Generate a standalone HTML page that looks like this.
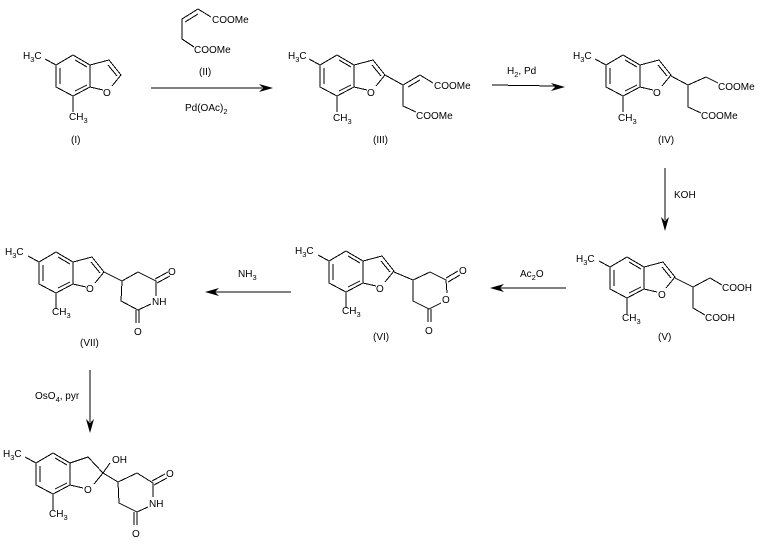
<!DOCTYPE html>
<html><head><meta charset="utf-8"><style>
html,body{margin:0;padding:0;background:#fff}
svg{display:block}
text{font-family:"Liberation Sans",Arial,sans-serif;font-size:10px;fill:#000}
.s{font-size:7.5px}
.l{stroke:#000;stroke-width:1;fill:none;shape-rendering:crispEdges}
</style></head><body>
<svg width="761" height="545" viewBox="0 0 761 545" xmlns="http://www.w3.org/2000/svg">
<defs>
<g id="core" class="l">
<path class="l" d="M73 55L90 65L90 87L73 96L56 87L56 65Z"/>
<path class="l" d="M60 68L60 84M75 60L87 67M75 91L87 85"/>
<path class="l" d="M90 65L109 60L121 75L112 86M90 87L103 90"/>
<path class="l" d="M56 65L45 59M73 96L73 112"/>
</g>
<path id="db" class="l" d="M108 65L117 76"/>
<g id="head"><path d="M0 0L-14 -4L-10 0L-14 4Z" fill="#000"/></g>
</defs>

<!-- I -->
<use href="#core"/><use href="#db"/>
<text x="23" y="59">H<tspan class="s" dy="3">3</tspan><tspan dy="-3">C</tspan></text>
<text x="103" y="96">O</text>
<text x="69" y="120">CH<tspan class="s" dy="3">3</tspan></text>
<text x="71" y="143">(I)</text>

<!-- II -->
<path class="l" d="M211 17L198 9L182 19L182 39L194 47M185 22L198 14"/>
<text x="212" y="23">COOMe</text>
<text x="194" y="53">COOMe</text>
<text x="199" y="75">(II)</text>
<text x="185" y="111">Pd(OAc)<tspan class="s" dy="3">2</tspan></text>
<path class="l" d="M151 88L262 88"/><use href="#head" x="273" y="88"/>

<!-- III -->
<g transform="translate(264,0)"><use href="#core"/><use href="#db"/></g>
<path class="l" d="M385 75L403 85L420 75L433 83M408 87L420 80M403 85L403 106L416 112"/>
<text x="288" y="59">H<tspan class="s" dy="3">3</tspan><tspan dy="-3">C</tspan></text>
<text x="367" y="96">O</text>
<text x="333" y="121">CH<tspan class="s" dy="3">3</tspan></text>
<text x="434" y="89">COOMe</text>
<text x="416" y="119">COOMe</text>
<text x="373" y="143">(III)</text>
<text x="507" y="74">H<tspan class="s" dy="3">2</tspan><tspan dy="-3">, Pd</tspan></text>
<path class="l" d="M492 85L555 86"/><use href="#head" x="565" y="87"/>

<!-- IV -->
<g transform="translate(550,0)"><use href="#core"/><use href="#db"/></g>
<path class="l" d="M671 76L688 85L706 77L718 83M688 85L688 107L701 113"/>
<text x="573" y="59">H<tspan class="s" dy="3">3</tspan><tspan dy="-3">C</tspan></text>
<text x="653" y="96">O</text>
<text x="618" y="121">CH<tspan class="s" dy="3">3</tspan></text>
<text x="718" y="90">COOMe</text>
<text x="701" y="119">COOMe</text>
<text x="658" y="143">(IV)</text>

<path class="l" d="M665 168L665 220"/><use href="#head" transform="translate(665,231) rotate(90)"/>
<text x="674" y="198">KOH</text>

<!-- V -->
<g transform="translate(554,202)"><use href="#core"/><use href="#db"/></g>
<path class="l" d="M675 278L693 287L710 278L722 285M693 287L693 308L705 315"/>
<text x="576" y="262">H<tspan class="s" dy="3">3</tspan><tspan dy="-3">C</tspan></text>
<text x="658" y="298">O</text>
<text x="622" y="321">CH<tspan class="s" dy="3">3</tspan></text>
<text x="722" y="291">COOH</text>
<text x="705" y="321">COOH</text>
<text x="658" y="340">(V)</text>

<path class="l" d="M566 288L500 288"/><use href="#head" transform="translate(490,288) rotate(180)"/>
<text x="520" y="277">Ac<tspan class="s" dy="3">2</tspan><tspan dy="-3">O</tspan></text>

<!-- VI -->
<g transform="translate(273,196)"><use href="#core"/><use href="#db"/></g>
<path class="l" d="M394 272L413 280L430 272L446 280L447 293M441 303L429 309L413 301L413 280M446 278L458 271M448 282L460 275M428 309L428 322M431 309L431 322"/>
<text x="295" y="254">H<tspan class="s" dy="3">3</tspan><tspan dy="-3">C</tspan></text>
<text x="376" y="292">O</text>
<text x="342" y="314">CH<tspan class="s" dy="3">3</tspan></text>
<text x="459" y="274">O</text>
<text x="442" y="303">O</text>
<text x="425" y="334">O</text>
<text x="373" y="340">(VI)</text>

<path class="l" d="M291 292L215 292"/><use href="#head" transform="translate(205,292) rotate(180)"/>
<text x="238" y="277">NH<tspan class="s" dy="3">3</tspan></text>

<!-- VII -->
<g transform="translate(-17,197)"><use href="#core"/><use href="#db"/></g>
<path class="l" d="M104 272L122 281L138 272L156 281L156 296M151 304L138 310L121 301L122 281M155 279L168 272M157 283L170 276M136 310L136 323M139 310L139 323"/>
<text x="5" y="255">H<tspan class="s" dy="3">3</tspan><tspan dy="-3">C</tspan></text>
<text x="86" y="292">O</text>
<text x="52" y="315">CH<tspan class="s" dy="3">3</tspan></text>
<text x="152" y="305">NH</text>
<text x="168" y="275">O</text>
<text x="134" y="335">O</text>
<text x="80" y="346">(VII)</text>

<path class="l" d="M90 370L90 422"/><use href="#head" transform="translate(90,433) rotate(90)"/>
<text x="35" y="399">OsO<tspan class="s" dy="3">4</tspan><tspan dy="-3">, pyr</tspan></text>

<!-- VIII -->
<path class="l" d="M53 453L70 463L70 485L53 494L36 485L36 463ZM40 466L40 482M55 458L67 465M55 489L67 483M70 463L88 457L103 473L94 484M70 485L83 488M36 463L25 457M53 494L53 510"/>
<path class="l" d="M103 473L110 463M103 473L118 482L137 473L153 483L153 497M148 507L137 512L119 503L118 482M152 481L165 474M154 485L167 478M134 512L134 525M137 512L137 525"/>
<text x="3" y="457">H<tspan class="s" dy="3">3</tspan><tspan dy="-3">C</tspan></text>
<text x="84" y="493">O</text>
<text x="49" y="517">CH<tspan class="s" dy="3">3</tspan></text>
<text x="112" y="463">OH</text>
<text x="149" y="507">NH</text>
<text x="166" y="477">O</text>
<text x="132" y="537">O</text>
</svg>
</body></html>
